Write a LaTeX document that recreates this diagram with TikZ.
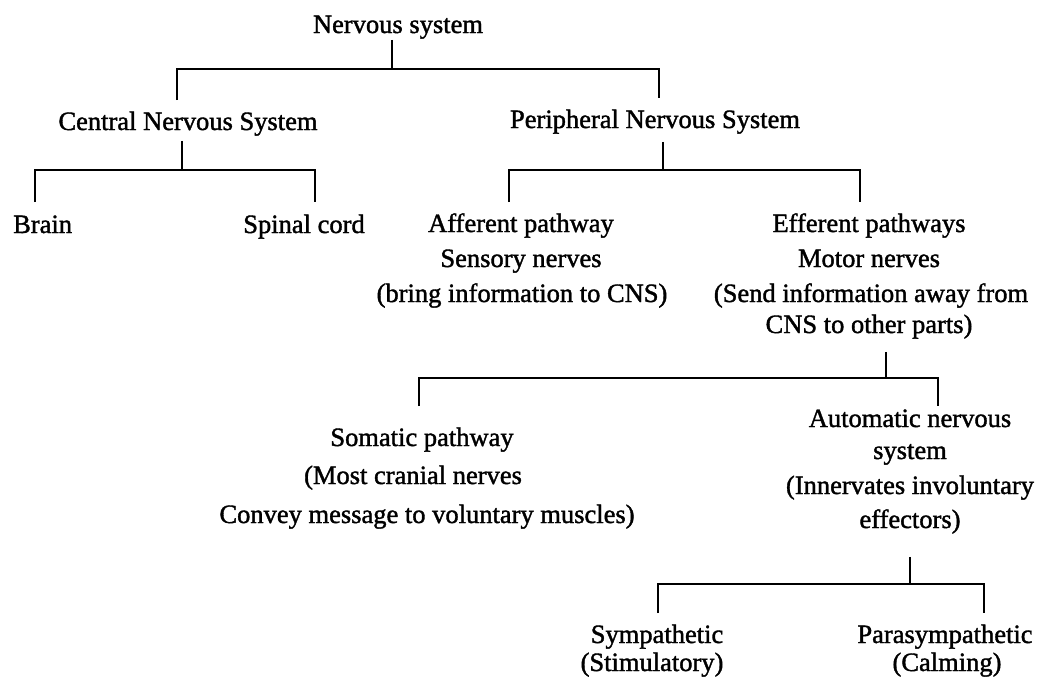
\documentclass[tikz,border=0pt]{standalone}
\usepackage{fontspec}
\setmainfont{Liberation Serif}[FakeBold=1.4]
\begin{document}
\begin{tikzpicture}[x=1pt,y=-1pt,
  lbl/.style={inner sep=0pt, anchor=base, font=\fontsize{26.5}{30}\selectfont},
  conn/.style={line width=2.8pt, line cap=butt}]
\useasboundingbox[fill=white] (0,0) rectangle (1037,681);
% texts
\node[lbl] (ns) at (398,33) {Nervous system};
\node[lbl] (cns) at (188,130) {Central Nervous System};
\node[lbl] (pns) at (655,128) {Peripheral Nervous System};
\node[lbl, anchor=base west] (brain) at (13,233) {Brain};
\node[lbl] (spinal) at (304,233) {Spinal cord};
\node[lbl] (aff1) at (521,232) {Afferent pathway};
\node[lbl] (aff2) at (521,267) {Sensory nerves};
\node[lbl] (aff3) at (522,302) {(bring information to CNS)};
\node[lbl] (eff1) at (869,232) {Efferent pathways};
\node[lbl] (eff2) at (869,267) {Motor nerves};
\node[lbl] (eff3) at (871,302) {(Send information away from};
\node[lbl] (eff4) at (869,333) {CNS to other parts)};
\node[lbl] (som1) at (422,446) {Somatic pathway};
\node[lbl] (som2) at (413,484) {(Most cranial nerves};
\node[lbl] (som3) at (427,523) {Convey message to voluntary muscles)};
\node[lbl] (aut1) at (910,427) {Automatic nervous};
\node[lbl] (aut2) at (910,459) {system};
\node[lbl] (aut3) at (910,494) {(Innervates involuntary};
\node[lbl] (aut4) at (910,528) {effectors)};
\node[lbl] (sym1) at (657,643) {Sympathetic};
\node[lbl] (sym2) at (652,671) {(Stimulatory)};
\node[lbl] (par1) at (945,643) {Parasympathetic};
\node[lbl] (par2) at (947,671) {(Calming)};
% junction coordinates
\coordinate (j0) at (392,69);
\coordinate (j1) at (182,170);
\coordinate (j2) at (663,170);
\coordinate (j3) at (886,378);
\coordinate (j4) at (910,584);
\coordinate (d0l) at (177,100);
\coordinate (d0r) at (659,98);
\coordinate (d1l) at (35,202);
\coordinate (d1r) at (315,202);
\coordinate (d2l) at (509,202);
\coordinate (d2r) at (860,202);
\coordinate (d3l) at (419,406);
\coordinate (d3r) at (938,406);
\coordinate (d4l) at (658,613);
\coordinate (d4r) at (984,613);
% connectors
\draw[conn] ([yshift=-1pt]ns.south -| j0) -- (j0);
\draw[conn] (d0l) |- (j0) -| (d0r);
\draw[conn] ([yshift=-5pt]cns.south -| j1) -- (j1);
\draw[conn] ([yshift=-8pt]pns.south -| j2) -- (j2);
\draw[conn] (d1l) |- (j1) -| (d1r);
\draw[conn] (d2l) |- (j2) -| (d2r);
\draw[conn] ([yshift=-13pt]eff4.south -| j3) -- (j3);
\draw[conn] (d3l) |- (j3) -| (d3r);
\draw[conn] ([yshift=-23pt]aut4.south -| j4) -- (j4);
\draw[conn] (d4l) |- (j4) -| (d4r);
\end{tikzpicture}
\end{document}
